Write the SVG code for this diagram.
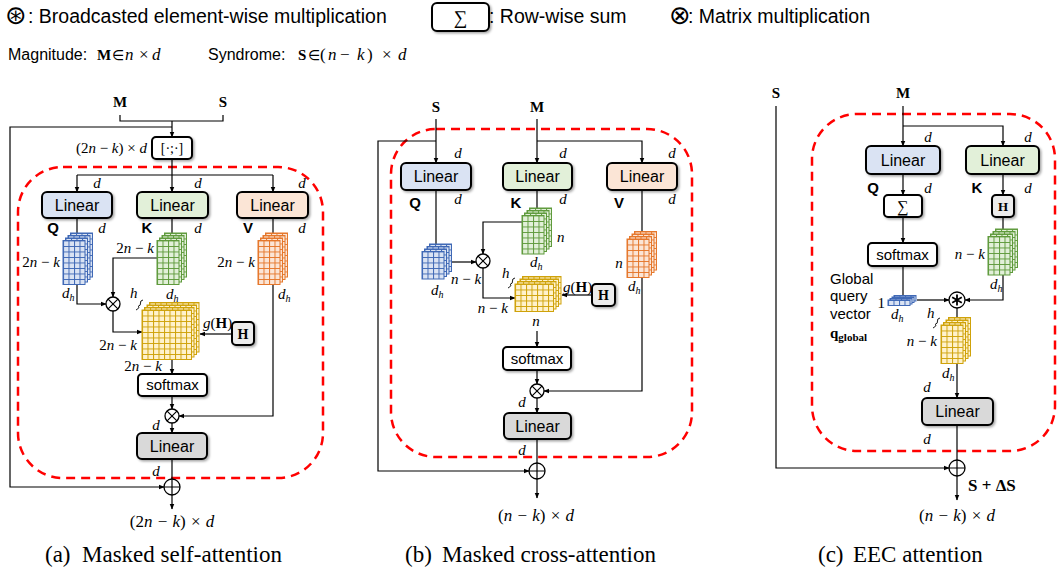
<svg xmlns="http://www.w3.org/2000/svg" width="1057" height="571" viewBox="0 0 1057 571">
<defs>
<style>
.sans{font-family:"Liberation Sans",Arial,sans-serif}
.ser{font-family:"Liberation Serif","Times New Roman",serif}
.it{font-style:italic}
.b{font-weight:bold}
.el{font-family:"DejaVu Sans",sans-serif;font-size:14px}
.ln{fill:none;stroke:#000;stroke-width:1.2}
.ar{marker-end:url(#ah)}
.box{stroke:#000;stroke-width:2;filter:url(#sh)}
.red{fill:none;stroke:#ff0000;stroke-width:2.5;stroke-dasharray:9 6}
.lbl{font-family:"Liberation Serif","Times New Roman",serif;font-size:15px}
.dim{font-family:"Liberation Serif","Times New Roman",serif;font-size:17px;word-spacing:1px}
.dl{font-family:"Liberation Serif","Times New Roman",serif;font-style:italic;font-size:15px}
.sub{font-size:10px}
.nm{font-family:"Liberation Sans",Arial,sans-serif;font-size:16px;text-anchor:middle}
.qkv{font-family:"Liberation Sans",Arial,sans-serif;font-size:15px;font-weight:bold;text-anchor:middle}
.cap{font-family:"Liberation Serif","Times New Roman",serif;font-size:23px}
.sym{font-family:"DejaVu Sans",sans-serif;font-size:26px}
.op{fill:#fff;stroke:#000;stroke-width:1.3}
.lin-q{fill:#dae3f3}.lin-k{fill:#e2f0d9}.lin-v{fill:#fbe5d6}.lin-o{fill:#d9d9d9}.wht{fill:#fff}.hb{fill:#ececec}
</style>
<marker id="ah" viewBox="0 0 10 10" refX="9" refY="5" markerWidth="6" markerHeight="6" markerUnits="userSpaceOnUse" orient="auto"><path d="M0,1 L10,5 L0,9 z" fill="#000"/></marker>
<filter id="sh" x="-15%" y="-15%" width="135%" height="150%"><feDropShadow dx="1.5" dy="1.5" stdDeviation="1.2" flood-color="#000" flood-opacity="0.35"/></filter>
<pattern id="gB" width="5.5" height="5.5" patternUnits="userSpaceOnUse"><rect width="5.5" height="5.5" fill="#dae3f3"/><path d="M0,0.5H5.5M0.5,0V5.5" stroke="#3f68b5" stroke-width="1"/></pattern>
<pattern id="gG" width="5.5" height="5.5" patternUnits="userSpaceOnUse"><rect width="5.5" height="5.5" fill="#e2f0d9"/><path d="M0,0.5H5.5M0.5,0V5.5" stroke="#5f9a3c" stroke-width="1"/></pattern>
<pattern id="gO" width="5.5" height="5.5" patternUnits="userSpaceOnUse"><rect width="5.5" height="5.5" fill="#fbe5d6"/><path d="M0,0.5H5.5M0.5,0V5.5" stroke="#e5772b" stroke-width="1"/></pattern>
<pattern id="gY" width="5.5" height="5.5" patternUnits="userSpaceOnUse"><rect width="5.5" height="5.5" fill="#fff2cc"/><path d="M0,0.5H5.5M0.5,0V5.5" stroke="#cfa20a" stroke-width="1"/></pattern>
<g id="otimes"><circle class="op" r="7"/><path d="M-4.9,-4.9L4.9,4.9M-4.9,4.9L4.9,-4.9" stroke="#000" stroke-width="1.2"/></g>
<g id="oplus"><circle class="op" r="8"/><path d="M-8,0H8M0,-8V8" stroke="#000" stroke-width="1.2"/></g>
<g id="ostar"><circle class="op" r="8" stroke-width="1.8"/><path d="M0,-5.5V5.5M-4.8,-2.75L4.8,2.75M-4.8,2.75L4.8,-2.75" stroke="#000" stroke-width="1.8"/></g>
</defs>

<rect width="1057" height="571" fill="#fff"/>

<!-- legend -->
<g id="legend">
  <text x="5" y="24" class="sym">⊛</text>
  <text x="28" y="23" class="sans" font-size="19.5">: Broadcasted element-wise multiplication</text>
  <rect x="432" y="3" width="57" height="28" rx="5" class="box wht"/>
  <text x="460.5" y="24" class="ser" font-size="19" text-anchor="middle">∑</text>
  <text x="489" y="23" class="sans" font-size="19.5">: Row-wise sum</text>
  <text x="669" y="24" class="sym">⊗</text>
  <text x="688" y="23" class="sans" font-size="19.5">: Matrix multiplication</text>
  <text y="60" class="sans" font-size="16"><tspan x="8">Magnitude:</tspan><tspan x="208">Syndrome:</tspan></text>
  <text y="60" class="ser" font-size="17"><tspan x="97" class="b" font-size="15">M</tspan><tspan x="112" class="el">∈</tspan><tspan x="125" class="it">n</tspan><tspan x="139">×</tspan><tspan x="152" class="it">d</tspan><tspan x="298" class="b" font-size="15">S</tspan><tspan x="308" class="el">∈</tspan><tspan x="320">(</tspan><tspan x="328" class="it">n</tspan><tspan x="340">−</tspan><tspan x="357" class="it">k</tspan><tspan x="367">)</tspan><tspan x="382">×</tspan><tspan x="398" class="it">d</tspan></text>
</g>

<!-- dashed attention regions -->
<g id="regions">
  <rect class="red" x="18" y="167" width="305" height="311" rx="45"/>
  <rect class="red" x="391" y="129" width="301" height="328" rx="45"/>
  <rect class="red" x="812" y="114" width="243" height="337" rx="45"/>
</g>

<!-- connectors -->
<g id="connectors">
  <g id="conn-a">
    <path class="ln" d="M120,115V121H223V115"/>
    <path class="ln ar" d="M172,121V137"/>
    <path class="ln ar" d="M172,127H10V487H164"/>
    <path class="ln ar" d="M172,159V192"/>
    <path class="ln" d="M77,175H273"/>
    <path class="ln ar" d="M77,175V192"/>
    <path class="ln ar" d="M273,175V192"/>
    <path class="ln" d="M77,218V240"/>
    <path class="ln" d="M172,218V240"/>
    <path class="ln" d="M273,218V240"/>
    <path class="ln ar" d="M77,284V304H106"/>
    <path class="ln ar" d="M157,258H113V297"/>
    <path class="ln ar" d="M113,311V332H142"/>
    <path class="ln ar" d="M232,334H200"/>
    <path class="ln ar" d="M172,359V374"/>
    <path class="ln ar" d="M172,396V409"/>
    <path class="ln ar" d="M273,284V416H179"/>
    <path class="ln ar" d="M172,423V433"/>
    <path class="ln" d="M172,459V479"/>
    <path class="ln ar" d="M172,495V509"/>
  </g>
  <g id="conn-b">
    <path class="ln ar" d="M436,119V163"/>
    <path class="ln ar" d="M436,141H378V471H529"/>
    <path class="ln ar" d="M537,119V163"/>
    <path class="ln ar" d="M537,141H642V163"/>
    <path class="ln" d="M436,190V250"/>
    <path class="ln" d="M537,190V214"/>
    <path class="ln" d="M642,190V236"/>
    <path class="ln ar" d="M522,222H483V254"/>
    <path class="ln ar" d="M451,262H476"/>
    <path class="ln ar" d="M483,268V298H515"/>
    <path class="ln ar" d="M592,295H562"/>
    <path class="ln ar" d="M537,331V347"/>
    <path class="ln ar" d="M537,370V384"/>
    <path class="ln ar" d="M642,277V391H544"/>
    <path class="ln ar" d="M537,398V413"/>
    <path class="ln" d="M537,439V463"/>
    <path class="ln ar" d="M537,479V498"/>
  </g>
  <g id="conn-c">
    <path class="ln ar" d="M776,106V468H949"/>
    <path class="ln ar" d="M903,106V146"/>
    <path class="ln ar" d="M903,126H1003V146"/>
    <path class="ln ar" d="M903,174V195"/>
    <path class="ln ar" d="M1003,174V195"/>
    <path class="ln ar" d="M903,217V243"/>
    <path class="ln" d="M1003,217V234"/>
    <path class="ln" d="M903,266V298"/>
    <path class="ln ar" d="M917,300H949"/>
    <path class="ln ar" d="M1003,275V300H965"/>
    <path class="ln" d="M957,308V318"/>
    <path class="ln ar" d="M957,364V398"/>
    <path class="ln" d="M957,425V460"/>
    <path class="ln ar" d="M957,476V500"/>
  </g>
</g>

<!-- ===== (a) masked self-attention ===== -->
<g id="a-inputs">
  <text x="120" y="107" class="ser b" font-size="15" text-anchor="middle">M</text>
  <text x="223" y="107" class="ser b" font-size="15" text-anchor="middle">S</text>
</g>
<g id="a-concat">
  <rect x="152" y="137" width="40" height="22" rx="4" class="box wht"/>
  <text x="172" y="153" class="ser" font-size="14" text-anchor="middle">[·;·]</text>
  <text x="147" y="153" class="lbl" text-anchor="end">(2<tspan class="it">n</tspan> − <tspan class="it">k</tspan>) × <tspan class="it">d</tspan></text>
</g>
<g id="a-dims-in">
  <text x="97" y="188" class="dl" text-anchor="middle">d</text>
  <text x="198" y="188" class="dl" text-anchor="middle">d</text>
  <text x="302" y="188" class="dl" text-anchor="middle">d</text>
</g>
<g id="a-linear-q">
  <rect x="42" y="192" width="70" height="26" rx="5" class="box lin-q"/>
  <text x="77" y="210.5" class="nm">Linear</text>
  <text x="53" y="233" class="qkv">Q</text><text x="102" y="233" class="dl" text-anchor="middle">d</text>
</g>
<g id="a-linear-k">
  <rect x="137" y="192" width="71" height="26" rx="5" class="box lin-k"/>
  <text x="172.5" y="210.5" class="nm">Linear</text>
  <text x="147" y="233" class="qkv">K</text><text x="198" y="233" class="dl" text-anchor="middle">d</text>
</g>
<g id="a-linear-v">
  <rect x="237" y="192" width="71" height="26" rx="5" class="box lin-v"/>
  <text x="272.5" y="210.5" class="nm">Linear</text>
  <text x="248" y="233" class="qkv">V</text><text x="302" y="233" class="dl" text-anchor="middle">d</text>
</g>
<g id="a-q-cube">
  <g transform="translate(70.5,233)"><rect width="22" height="44" fill="url(#gB)" stroke="#3f68b5"/></g>
  <g transform="translate(68,235.5)"><rect width="22" height="44" fill="url(#gB)" stroke="#3f68b5"/></g>
  <g transform="translate(65.5,238)"><rect width="22" height="44" fill="url(#gB)" stroke="#3f68b5"/></g>
  <g transform="translate(63,240.5)"><rect width="22" height="44" fill="url(#gB)" stroke="#3f68b5"/></g>
  <text x="60" y="267" class="lbl" text-anchor="end">2<tspan class="it">n</tspan> − <tspan class="it">k</tspan></text>
  <text x="62" y="298" class="dl">d<tspan class="sub" dy="3">h</tspan></text>
</g>
<g id="a-k-cube">
  <g transform="translate(164.5,233)"><rect width="22" height="44" fill="url(#gG)" stroke="#5f9a3c"/></g>
  <g transform="translate(162,235.5)"><rect width="22" height="44" fill="url(#gG)" stroke="#5f9a3c"/></g>
  <g transform="translate(159.5,238)"><rect width="22" height="44" fill="url(#gG)" stroke="#5f9a3c"/></g>
  <g transform="translate(157,240.5)"><rect width="22" height="44" fill="url(#gG)" stroke="#5f9a3c"/></g>
  <text x="154" y="253" class="lbl" text-anchor="end">2<tspan class="it">n</tspan> − <tspan class="it">k</tspan></text>
  <text x="166" y="299" class="dl">d<tspan class="sub" dy="3">h</tspan></text>
</g>
<g id="a-v-cube">
  <g transform="translate(265.5,233)"><rect width="22" height="44" fill="url(#gO)" stroke="#e5772b"/></g>
  <g transform="translate(263,235.5)"><rect width="22" height="44" fill="url(#gO)" stroke="#e5772b"/></g>
  <g transform="translate(260.5,238)"><rect width="22" height="44" fill="url(#gO)" stroke="#e5772b"/></g>
  <g transform="translate(258,240.5)"><rect width="22" height="44" fill="url(#gO)" stroke="#e5772b"/></g>
  <text x="255" y="267" class="lbl" text-anchor="end">2<tspan class="it">n</tspan> − <tspan class="it">k</tspan></text>
  <text x="278" y="299" class="dl">d<tspan class="sub" dy="3">h</tspan></text>
</g>
<g id="a-qk-mul"><use href="#otimes" transform="translate(113,304)"/></g>
<g id="a-score-cube">
  <g transform="translate(149.5,302.5)"><rect width="49.5" height="49.5" fill="url(#gY)" stroke="#cfa20a"/></g>
  <g transform="translate(147,305)"><rect width="49.5" height="49.5" fill="url(#gY)" stroke="#cfa20a"/></g>
  <g transform="translate(144.5,307.5)"><rect width="49.5" height="49.5" fill="url(#gY)" stroke="#cfa20a"/></g>
  <g transform="translate(142,310)"><rect width="49.5" height="49.5" fill="url(#gY)" stroke="#cfa20a"/></g>
  <text x="130" y="298" class="dl">h</text>
  <path d="M143,300q-3,0.5-2.5,3q0.5,2.5-2.5,3.5q2.5,1-2,3.5" fill="none" stroke="#000" stroke-width="0.9"/>
  <text x="137" y="350" class="lbl" text-anchor="end">2<tspan class="it">n</tspan> − <tspan class="it">k</tspan></text>
  <text x="143" y="371" class="lbl" text-anchor="middle">2<tspan class="it">n</tspan> − <tspan class="it">k</tspan></text>
  <text x="203" y="328" class="lbl"><tspan class="it">g</tspan>(<tspan class="b">H</tspan>)</text>
</g>
<g id="a-mask">
  <rect x="232" y="322" width="22" height="23" rx="4" class="box hb"/>
  <text x="243" y="338.5" class="ser b" font-size="14" text-anchor="middle">H</text>
</g>
<g id="a-softmax">
  <rect x="138" y="374" width="69" height="22" rx="4" class="box wht"/>
  <text x="172.5" y="390" class="sans" font-size="15" text-anchor="middle">softmax</text>
</g>
<g id="a-av-mul"><use href="#otimes" transform="translate(172,416)"/><text x="156" y="430" class="dl" text-anchor="middle">d</text></g>
<g id="a-linear-out">
  <rect x="137" y="433" width="70" height="26" rx="5" class="box lin-o"/>
  <text x="172" y="451.5" class="nm">Linear</text>
  <text x="156" y="476" class="dl" text-anchor="middle">d</text>
</g>
<g id="a-add"><use href="#oplus" transform="translate(172,487)"/></g>
<g id="a-output">
  <text x="172" y="527" class="dim" text-anchor="middle">(2<tspan class="it">n</tspan> − <tspan class="it">k</tspan>) × <tspan class="it">d</tspan></text>
  <text y="562" class="cap"><tspan x="45">(a)</tspan><tspan x="82">Masked self-attention</tspan></text>
</g>

<!-- ===== (b) masked cross-attention ===== -->
<g id="b-inputs">
  <text x="436" y="112" class="ser b" font-size="15" text-anchor="middle">S</text>
  <text x="537" y="112" class="ser b" font-size="15" text-anchor="middle">M</text>
  <text x="458" y="158" class="dl" text-anchor="middle">d</text>
  <text x="563" y="158" class="dl" text-anchor="middle">d</text>
  <text x="672" y="158" class="dl" text-anchor="middle">d</text>
</g>
<g id="b-linear-q">
  <rect x="401" y="163" width="70" height="27" rx="5" class="box lin-q"/>
  <text x="436" y="182" class="nm">Linear</text>
  <text x="415" y="208" class="qkv">Q</text><text x="458" y="204" class="dl" text-anchor="middle">d</text>
</g>
<g id="b-linear-k">
  <rect x="503" y="163" width="69" height="27" rx="5" class="box lin-k"/>
  <text x="537.5" y="182" class="nm">Linear</text>
  <text x="516" y="208" class="qkv">K</text><text x="563" y="204" class="dl" text-anchor="middle">d</text>
</g>
<g id="b-linear-v">
  <rect x="607" y="163" width="70" height="27" rx="5" class="box lin-v"/>
  <text x="642" y="182" class="nm">Linear</text>
  <text x="619" y="208" class="qkv">V</text><text x="672" y="204" class="dl" text-anchor="middle">d</text>
</g>
<g id="b-k-cube">
  <g transform="translate(529.5,208)"><rect width="22" height="38.5" fill="url(#gG)" stroke="#5f9a3c"/></g>
  <g transform="translate(527,210.5)"><rect width="22" height="38.5" fill="url(#gG)" stroke="#5f9a3c"/></g>
  <g transform="translate(524.5,213)"><rect width="22" height="38.5" fill="url(#gG)" stroke="#5f9a3c"/></g>
  <g transform="translate(522,215.5)"><rect width="22" height="38.5" fill="url(#gG)" stroke="#5f9a3c"/></g>
  <text x="557" y="242" class="dl">n</text>
  <text x="530" y="267" class="dl">d<tspan class="sub" dy="3">h</tspan></text>
</g>
<g id="b-q-cube">
  <g transform="translate(429.5,244)"><rect width="22" height="27.5" fill="url(#gB)" stroke="#3f68b5"/></g>
  <g transform="translate(427,246.5)"><rect width="22" height="27.5" fill="url(#gB)" stroke="#3f68b5"/></g>
  <g transform="translate(424.5,249)"><rect width="22" height="27.5" fill="url(#gB)" stroke="#3f68b5"/></g>
  <g transform="translate(422,251.5)"><rect width="22" height="27.5" fill="url(#gB)" stroke="#3f68b5"/></g>
  <text x="431" y="295" class="dl">d<tspan class="sub" dy="3">h</tspan></text>
  <text x="466" y="284" class="lbl" text-anchor="middle"><tspan class="it">n</tspan> − <tspan class="it">k</tspan></text>
</g>
<g id="b-qk-mul"><use href="#otimes" transform="translate(483,261)"/></g>
<g id="b-score-cube">
  <g transform="translate(522.5,276.5)"><rect width="38.5" height="27.5" fill="url(#gY)" stroke="#cfa20a"/></g>
  <g transform="translate(520,279)"><rect width="38.5" height="27.5" fill="url(#gY)" stroke="#cfa20a"/></g>
  <g transform="translate(517.5,281.5)"><rect width="38.5" height="27.5" fill="url(#gY)" stroke="#cfa20a"/></g>
  <g transform="translate(515,284)"><rect width="38.5" height="27.5" fill="url(#gY)" stroke="#cfa20a"/></g>
  <text x="502" y="278" class="dl">h</text>
  <path d="M515,278q-3,0.5-2.5,3q0.5,2.5-2.5,3.5q2.5,1-2,3.5" fill="none" stroke="#000" stroke-width="0.9"/>
  <text x="508" y="313" class="lbl" text-anchor="end"><tspan class="it">n</tspan> − <tspan class="it">k</tspan></text>
  <text x="536" y="326" class="dl" text-anchor="middle">n</text>
  <text x="563" y="292" class="lbl"><tspan class="it">g</tspan>(<tspan class="b">H</tspan>)</text>
</g>
<g id="b-mask">
  <rect x="592" y="284" width="23" height="22" rx="4" class="box hb"/>
  <text x="603.5" y="300" class="ser b" font-size="14" text-anchor="middle">H</text>
</g>
<g id="b-v-cube">
  <g transform="translate(634.5,231.5)"><rect width="22" height="38.5" fill="url(#gO)" stroke="#e5772b"/></g>
  <g transform="translate(632,234)"><rect width="22" height="38.5" fill="url(#gO)" stroke="#e5772b"/></g>
  <g transform="translate(629.5,236.5)"><rect width="22" height="38.5" fill="url(#gO)" stroke="#e5772b"/></g>
  <g transform="translate(627,239)"><rect width="22" height="38.5" fill="url(#gO)" stroke="#e5772b"/></g>
  <text x="619" y="268" class="dl" text-anchor="middle">n</text>
  <text x="628" y="291" class="dl">d<tspan class="sub" dy="3">h</tspan></text>
</g>
<g id="b-softmax">
  <rect x="503" y="347" width="68" height="23" rx="4" class="box wht"/>
  <text x="537" y="363.5" class="sans" font-size="15" text-anchor="middle">softmax</text>
</g>
<g id="b-av-mul"><use href="#otimes" transform="translate(537,391)"/><text x="522" y="407" class="dl" text-anchor="middle">d</text></g>
<g id="b-linear-out">
  <rect x="504" y="413" width="67" height="26" rx="5" class="box lin-o"/>
  <text x="537.5" y="431.5" class="nm">Linear</text>
  <text x="522" y="455" class="dl" text-anchor="middle">d</text>
</g>
<g id="b-add"><use href="#oplus" transform="translate(537,471)"/></g>
<g id="b-output">
  <text x="536" y="521" class="dim" text-anchor="middle">(<tspan class="it">n</tspan> − <tspan class="it">k</tspan>) × <tspan class="it">d</tspan></text>
  <text y="562" class="cap"><tspan x="405">(b)</tspan><tspan x="442">Masked cross-attention</tspan></text>
</g>

<!-- ===== (c) EEC attention ===== -->
<g id="c-inputs">
  <text x="776" y="98" class="ser b" font-size="15" text-anchor="middle">S</text>
  <text x="903" y="98" class="ser b" font-size="15" text-anchor="middle">M</text>
  <text x="928" y="142" class="dl" text-anchor="middle">d</text>
  <text x="1028" y="142" class="dl" text-anchor="middle">d</text>
</g>
<g id="c-linear-q">
  <rect x="866" y="146" width="74" height="28" rx="5" class="box lin-q"/>
  <text x="903" y="165.5" class="nm">Linear</text>
  <text x="873" y="193" class="qkv">Q</text><text x="928" y="193" class="dl" text-anchor="middle">d</text>
</g>
<g id="c-linear-k">
  <rect x="966" y="146" width="73" height="28" rx="5" class="box lin-k"/>
  <text x="1002.5" y="165.5" class="nm">Linear</text>
  <text x="977" y="193" class="qkv">K</text><text x="1028" y="193" class="dl" text-anchor="middle">d</text>
</g>
<g id="c-rowsum">
  <rect x="884" y="195" width="38" height="22" rx="4" class="box wht"/>
  <text x="903" y="212" class="ser" font-size="16" text-anchor="middle">∑</text>
</g>
<g id="c-mask">
  <rect x="992" y="195" width="22" height="22" rx="4" class="box hb"/>
  <text x="1003" y="211" class="ser b" font-size="13" text-anchor="middle">H</text>
</g>
<g id="c-softmax">
  <rect x="868" y="243" width="69" height="23" rx="4" class="box wht"/>
  <text x="902.5" y="259.5" class="sans" font-size="15" text-anchor="middle">softmax</text>
</g>
<g id="c-k-cube">
  <g transform="translate(995.5,229)"><rect width="22" height="38.5" fill="url(#gG)" stroke="#5f9a3c"/></g>
  <g transform="translate(993,231.5)"><rect width="22" height="38.5" fill="url(#gG)" stroke="#5f9a3c"/></g>
  <g transform="translate(990.5,234)"><rect width="22" height="38.5" fill="url(#gG)" stroke="#5f9a3c"/></g>
  <g transform="translate(988,236.5)"><rect width="22" height="38.5" fill="url(#gG)" stroke="#5f9a3c"/></g>
  <text x="985" y="259" class="lbl" text-anchor="end"><tspan class="it">n</tspan> − <tspan class="it">k</tspan></text>
  <text x="990" y="289" class="dl">d<tspan class="sub" dy="3">h</tspan></text>
</g>
<g id="c-global-query">
  <g transform="translate(894,295.5)"><rect width="22" height="5.5" fill="url(#gB)" stroke="#3f68b5"/></g>
  <g transform="translate(892,297)"><rect width="22" height="5.5" fill="url(#gB)" stroke="#3f68b5"/></g>
  <g transform="translate(890,298.5)"><rect width="22" height="5.5" fill="url(#gB)" stroke="#3f68b5"/></g>
  <g transform="translate(888,300)"><rect width="22" height="5.5" fill="url(#gB)" stroke="#3f68b5"/></g>
  <text x="885" y="308" class="lbl" text-anchor="end">1</text>
  <text x="891" y="319" class="dl">d<tspan class="sub" dy="3">h</tspan></text>
  <text class="sans" font-size="15"><tspan x="830" y="284">Global</tspan><tspan x="830" y="301">query</tspan><tspan x="830" y="319">vector</tspan></text>
  <text x="830" y="338" class="ser b" font-size="15">q<tspan font-size="11" dy="3">global</tspan></text>
</g>
<g id="c-bmul"><use href="#ostar" transform="translate(957,300)"/></g>
<g id="c-score-cube">
  <g transform="translate(948.5,317.5)"><rect width="22" height="38.5" fill="url(#gY)" stroke="#cfa20a"/></g>
  <g transform="translate(946,320)"><rect width="22" height="38.5" fill="url(#gY)" stroke="#cfa20a"/></g>
  <g transform="translate(943.5,322.5)"><rect width="22" height="38.5" fill="url(#gY)" stroke="#cfa20a"/></g>
  <g transform="translate(941,325)"><rect width="22" height="38.5" fill="url(#gY)" stroke="#cfa20a"/></g>
  <text x="927" y="318" class="dl">h</text>
  <path d="M940,318q-3,0.5-2.5,3q0.5,2.5-2.5,3.5q2.5,1-2,3.5" fill="none" stroke="#000" stroke-width="0.9"/>
  <text x="937" y="346" class="lbl" text-anchor="end"><tspan class="it">n</tspan> − <tspan class="it">k</tspan></text>
  <text x="942" y="378" class="dl">d<tspan class="sub" dy="3">h</tspan></text>
  <text x="927" y="392" class="dl" font-size="16" text-anchor="middle">d</text>
</g>
<g id="c-linear-out">
  <rect x="922" y="398" width="71" height="27" rx="5" class="box lin-o"/>
  <text x="957.5" y="417" class="nm">Linear</text>
  <text x="927" y="444" class="dl" text-anchor="middle">d</text>
</g>
<g id="c-add"><use href="#oplus" transform="translate(957,468)"/></g>
<g id="c-output">
  <text x="968" y="491" class="ser b" font-size="17">S + ΔS</text>
  <text x="957" y="521" class="dim" text-anchor="middle">(<tspan class="it">n</tspan> − <tspan class="it">k</tspan>) × <tspan class="it">d</tspan></text>
  <text y="562" class="cap"><tspan x="818">(c)</tspan><tspan x="853">EEC attention</tspan></text>
</g>
</svg>
